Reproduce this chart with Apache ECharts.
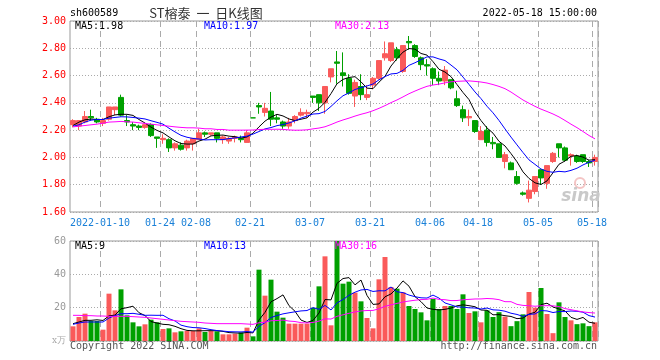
<!DOCTYPE html>
<html><head><meta charset="utf-8">
<script src="https://cdn.jsdelivr.net/npm/echarts@6/dist/echarts.min.js"></script>
<style>html,body{margin:0;padding:0;background:#fff;}#c{width:660px;height:360px;}</style>
</head><body><div id="c"></div>
<script>
const dates = ['2021-12-31',
'2022-01-04','2022-01-05','2022-01-06','2022-01-07','2022-01-10','2022-01-11','2022-01-12','2022-01-13','2022-01-14','2022-01-17','2022-01-18','2022-01-19','2022-01-20','2022-01-21','2022-01-24','2022-01-25','2022-01-26','2022-01-27','2022-01-28',
'2022-02-07','2022-02-08','2022-02-09','2022-02-10','2022-02-11','2022-02-14','2022-02-15','2022-02-16','2022-02-17','2022-02-18','2022-02-21','2022-02-22','2022-02-23','2022-02-24','2022-02-25','2022-02-28',
'2022-03-01','2022-03-02','2022-03-03','2022-03-04','2022-03-07','2022-03-08','2022-03-09','2022-03-10','2022-03-11','2022-03-14','2022-03-15','2022-03-16','2022-03-17','2022-03-18','2022-03-21','2022-03-22','2022-03-23','2022-03-24','2022-03-25','2022-03-28','2022-03-29','2022-03-30','2022-03-31',
'2022-04-01','2022-04-06','2022-04-07','2022-04-08','2022-04-11','2022-04-12','2022-04-13','2022-04-14','2022-04-15','2022-04-18','2022-04-19','2022-04-20','2022-04-21','2022-04-22','2022-04-25','2022-04-26','2022-04-27','2022-04-28','2022-04-29',
'2022-05-05','2022-05-06','2022-05-09','2022-05-10','2022-05-11','2022-05-12','2022-05-13','2022-05-16','2022-05-17','2022-05-18'];

const open = [2.24,2.23,2.26,2.30,2.28,2.25,2.28,2.35,2.44,2.27,2.24,2.23,2.22,2.24,2.15,2.13,2.13,2.07,2.09,2.07,2.10,2.13,
2.18,2.17,2.18,2.13,2.12,2.14,2.14,2.11,2.29,2.38,2.33,2.34,2.29,2.26,2.23,2.27,2.31,2.32,2.45,2.46,2.40,2.59,
2.70,2.62,2.58,2.45,2.52,2.44,2.53,2.58,2.73,2.71,2.79,2.63,2.85,2.82,2.73,2.68,2.65,2.58,2.56,2.57,2.43,2.35,
2.29,2.27,2.13,2.20,2.11,2.10,1.97,1.96,1.86,1.74,1.70,1.75,1.91,1.81,1.97,2.10,2.07,2.01,2.01,2.02,1.97,1.97];
const close = [2.27,2.27,2.30,2.29,2.26,2.27,2.37,2.37,2.31,2.26,2.23,2.22,2.24,2.16,2.14,2.14,2.07,2.10,2.06,2.12,2.14,2.18,
2.17,2.18,2.14,2.15,2.14,2.15,2.13,2.18,2.29,2.37,2.36,2.28,2.28,2.23,2.26,2.30,2.33,2.33,2.44,2.40,2.52,2.65,
2.69,2.60,2.47,2.55,2.46,2.46,2.58,2.71,2.76,2.84,2.73,2.82,2.84,2.74,2.68,2.67,2.58,2.56,2.64,2.51,2.38,2.29,
2.30,2.19,2.19,2.11,2.10,2.00,2.02,1.91,1.81,1.73,1.76,1.86,1.85,1.94,2.03,2.07,1.98,2.02,1.97,1.97,1.96,2.00];
const low = [2.22,2.20,2.25,2.27,2.25,2.23,2.27,2.31,2.30,2.23,2.20,2.20,2.21,2.15,2.07,2.10,2.04,2.05,2.05,2.05,2.05,2.13,
2.15,2.16,2.11,2.10,2.10,2.11,2.11,2.11,2.29,2.32,2.30,2.23,2.25,2.21,2.21,2.25,2.30,2.29,2.40,2.34,2.32,2.55,
2.54,2.52,2.46,2.37,2.42,2.42,2.50,2.57,2.71,2.70,2.71,2.62,2.79,2.73,2.64,2.60,2.53,2.53,2.53,2.50,2.37,2.26,
2.23,2.18,2.13,2.08,2.06,2.00,1.92,1.91,1.80,1.72,1.67,1.73,1.80,1.77,1.96,2.00,1.97,1.94,1.96,1.96,1.93,1.94];
const high = [2.28,2.27,2.34,2.35,2.29,2.29,2.37,2.37,2.46,2.31,2.26,2.24,2.24,2.25,2.15,2.17,2.14,2.11,2.11,2.13,2.14,2.21,
2.19,2.18,2.18,2.16,2.15,2.16,2.16,2.20,2.29,2.40,2.40,2.48,2.31,2.27,2.29,2.31,2.36,2.35,2.45,2.46,2.52,2.65,
2.78,2.77,2.61,2.57,2.61,2.53,2.59,2.71,2.85,2.84,2.81,2.82,2.89,2.83,2.74,2.72,2.66,2.63,2.67,2.57,2.49,2.38,
2.35,2.27,2.23,2.23,2.15,2.10,2.04,1.97,1.90,1.75,1.83,1.86,1.91,1.94,2.04,2.10,2.08,2.03,2.02,2.02,1.98,2.02];
const volume = [8.8,14.4,16.4,12,12,6.8,28.4,18.4,31,15.4,11.2,8.8,10,12.8,11.2,7.2,7.6,5.2,5.8,6,6,7.6,
5.4,6,5.8,4,4,4.4,5.2,8,2.8,42.8,27.2,36.8,17.6,14,10.4,10.4,10.4,10.4,20,32.8,50.8,9.4,
60,34.4,35.6,29,23.8,13.8,7.6,37,50.4,32.4,31.4,29.2,21,19.2,17.2,12.4,25.2,19.2,21,21,19.2,28,
16.8,17.8,11.2,18.4,14.4,17.3,14.6,8.9,11.9,16,29.4,20,31.8,16.2,4.7,23.2,14.4,12.4,10.1,10.6,8.9,11.2];

// moving-average values at the left edge (their windows start before the first shown day)
const priceMa5Head = [2.234,2.259,2.276,2.281];
const priceMa10Head = [2.229,2.239,2.259,2.273,2.278,2.278,2.288,2.293,2.298];
const priceMa30Head = [2.224,2.229,2.234,2.239,2.244,2.251,2.259,2.261,2.264,2.261,2.259,2.254,2.249,2.244,2.239,2.234,2.229,2.224,2.220,2.217,2.217,2.215,2.210,2.210,2.205,2.205,2.200,2.200,2.200];
const volMa5Head = [10.4,11.4,12.4,12.4];
const volMa10Head = [10.0,10.8,11.4,11.4,11.4,11.4,13.8,15.2,16.4];
const volMa30Head = [15.4,15.4,15.2,15.2,15,15,14.8,14.8,14.8,14.8,14.6,14.4,14.2,13.8,13.4,13,12.6,12.2,11.8,11.6,11.4,11.2,10.8,10.6,10.4,10.4,10.4,10.4,10.4];

const tickDates = ['2022-01-10','2022-01-24','2022-02-08','2022-02-21','2022-03-07','2022-03-21','2022-04-06','2022-04-18','2022-05-05','2022-05-18'];
const tickLabels = ['2022-01-10','01-24','02-08','02-21','03-07','03-21','04-06','04-18','05-05','05-18'];
const priceLegend = ['MA5:1.98','MA10:1.97','MA30:2.13'];
const volLegend = ['MA5:9','MA10:13','MA30:16'];

const RED = '#fa5a5a', GREEN = '#00a000';
const MONO = '"DejaVu Sans Mono", monospace';

function movingAvg(vals, n, head) {
  return vals.map((v, i) => {
    if (i < n - 1) return head[i];
    let s = 0;
    for (let k = i - n + 1; k <= i; k++) s += vals[k];
    return s / n;
  });
}
const ma5 = movingAvg(close, 5, priceMa5Head);
const ma10 = movingAvg(close, 10, priceMa10Head);
const ma30 = movingAvg(close, 30, priceMa30Head);
const vma5 = movingAvg(volume, 5, volMa5Head);
const vma10 = movingAvg(volume, 10, volMa10Head);
const vma30 = movingAvg(volume, 30, volMa30Head);

const kData = dates.map((d, i) => [open[i], close[i], low[i], high[i]]);
const isUp = i => close[i] > open[i];
const volData = volume.map((v, i) => ({ value: v, itemStyle: { color: isUp(i) ? RED : GREEN } }));

const tickIdx = tickDates.map(d => dates.indexOf(d));
const showTick = idx => tickIdx.indexOf(idx) >= 0;

const chart = echarts.init(document.getElementById('c'), null, { renderer: 'canvas' });
const GL = 70, GW = 528;
const dashed = { show: true, interval: showTick, lineStyle: { color: '#aaa', type: [6, 4], width: 1 } };
const dotted = { show: true, lineStyle: { color: '#aaa', type: [1, 2], width: 1 } };

function lineSeries(data, color, xi, yi) {
  return { type: 'line', data: data, xAxisIndex: xi, yAxisIndex: yi, symbol: 'none', smooth: false,
    lineStyle: { color: color, width: 1 }, itemStyle: { color: color }, z: 5, silent: true };
}

function txt(text, x, y, fill, opts) {
  return Object.assign({ type: 'text', x: x, y: y, silent: true, z: 100,
    style: { text: text, fill: fill, font: '10px ' + MONO, textAlign: 'left', textVerticalAlign: 'middle' } }, opts || {});
}

const graphics = [
  txt('sh600589', 70, 13, '#000'),
  { type: 'text', x: 206, y: 13, z: 100, silent: true, style: { text: 'ST榕泰  一  日K线图', fill: '#333', font: '13px "Noto Sans CJK SC"', textAlign: 'center', textVerticalAlign: 'middle' } },
  { type: 'text', x: 597, y: 13, z: 100, silent: true, style: { text: '2022-05-18 15:00:00', fill: '#000', font: '10px ' + MONO, textAlign: 'right', textVerticalAlign: 'middle' } },
  txt(priceLegend[0], 75, 26, '#000'),
  txt(priceLegend[1], 204, 26, '#0000ff'),
  txt(priceLegend[2], 335, 26, '#ff00ff'),
  txt(volLegend[0], 75, 246, '#000'),
  txt(volLegend[1], 204, 246, '#0000ff'),
  txt(volLegend[2], 335, 246, '#ff00ff'),
  txt('Copyright 2022 SINA.COM', 70, 346, '#555'),
  { type: 'text', x: 597, y: 346, z: 100, silent: true, style: { text: 'http://finance.sina.com.cn', fill: '#555', font: '10px ' + MONO, textAlign: 'right', textVerticalAlign: 'middle' } },
  { type: 'text', x: 66, y: 341, z: 100, silent: true, style: { text: 'x万', fill: '#aaa', font: '9px "DejaVu Serif", serif', textAlign: 'right', textVerticalAlign: 'middle' } },
  { type: 'circle', shape: { cx: 580, cy: 183, r: 5 }, z: 1, silent: true, style: { fill: 'none', stroke: '#f4c4c4', lineWidth: 2 } },
  { type: 'text', x: 581, y: 197, z: 1, silent: true, style: { text: 'sina', fill: '#c9c9c9', font: 'italic bold 17px "DejaVu Sans"', textAlign: 'center', textVerticalAlign: 'middle' } }
];

chart.setOption({
  animation: false,
  backgroundColor: '#fff',
  grid: [
    { left: GL, top: 21, width: GW, height: 191, show: true, borderColor: '#999', borderWidth: 1, backgroundColor: 'transparent' },
    { left: GL, top: 241, width: GW, height: 100, show: true, borderColor: '#999', borderWidth: 1, backgroundColor: 'transparent' }
  ],
  xAxis: [
    { type: 'category', data: dates, gridIndex: 0, boundaryGap: true,
      axisLine: { show: false }, axisTick: { show: false },
      axisLabel: { interval: showTick, color: '#1a80d8', fontFamily: MONO, fontSize: 10, margin: 6, padding: [0, 6, 0, 0],
        formatter: (v) => tickLabels[tickDates.indexOf(v)] },
      splitLine: dashed },
    { type: 'category', data: dates, gridIndex: 1, boundaryGap: true,
      axisLine: { show: false }, axisTick: { show: false }, axisLabel: { show: false },
      splitLine: dashed }
  ],
  yAxis: [
    { type: 'value', gridIndex: 0, min: 1.6, max: 3.0, interval: 0.2, scale: true,
      axisLine: { show: false }, axisTick: { show: false },
      axisLabel: { color: '#ff0000', fontFamily: MONO, fontSize: 10, margin: 4, formatter: v => v.toFixed(2) },
      splitLine: dotted },
    { type: 'value', gridIndex: 1, min: 0, max: 60, interval: 20,
      axisLine: { show: false }, axisTick: { show: false },
      axisLabel: { color: '#999', fontFamily: MONO, fontSize: 10, margin: 4, formatter: v => v === 0 ? '' : String(v) },
      splitLine: dotted }
  ],
  graphic: graphics,
  series: [
    { type: 'candlestick', data: kData, xAxisIndex: 0, yAxisIndex: 0, barWidth: 5, z: 3,
      itemStyle: { color: RED, color0: GREEN, borderColor: RED, borderColor0: GREEN, borderColorDoji: GREEN, borderWidth: 1 } },
    lineSeries(ma5, '#000000', 0, 0),
    lineSeries(ma10, '#0000ff', 0, 0),
    lineSeries(ma30, '#ff00ff', 0, 0),
    { type: 'bar', data: volData, xAxisIndex: 1, yAxisIndex: 1, barWidth: 5, z: 3 },
    lineSeries(vma5, '#000000', 1, 1),
    lineSeries(vma10, '#0000ff', 1, 1),
    lineSeries(vma30, '#ff00ff', 1, 1)
  ]
});
</script></body></html>
